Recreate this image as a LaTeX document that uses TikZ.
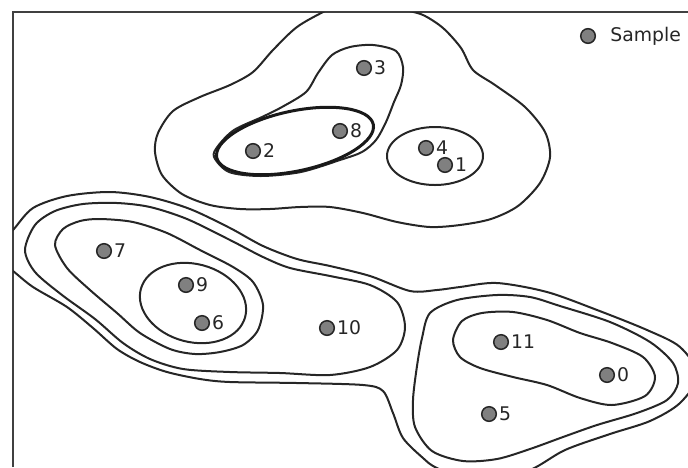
\documentclass[tikz,border=0pt]{standalone}
\usepackage{fontspec}
\setmainfont{DejaVu Sans}
\usepackage{xcolor}
\usetikzlibrary{positioning}

\begin{document}
\begin{tikzpicture}[
  x=0.5pt, y=-0.5pt,
  every node/.style={font=\fontsize{9.4pt}{11pt}\selectfont},
  contour/.style={line width=1pt, black!85},
  boldcontour/.style={line width=1.5pt, black!90},
  frame/.style={line width=1pt, black!75},
  sample/.style={circle, draw=black!85, fill=black!50, line width=0.75pt, minimum size=7.3pt, inner sep=0pt},
  lbl/.style={inner sep=0pt, text=black!85}
]
\useasboundingbox (0,0) rectangle (688,467);

% Axes frame
\draw[frame] (13,467) -- (13,12) -- (688,12);

\begin{scope}
\clip (13,12) rectangle (688,467);

% Upper cluster
\draw[contour] plot[smooth cycle] coordinates {(365,-8) (327,10) (297,27) (273,50) (253,72) (230,85) (200,97) (173,111) (158,133) (155,152) (162,175) (182,194) (210,205) (240,209) (270,209) (300,207) (330,207) (363,213) (397,222) (430,227) (460,225) (491,219) (518,206) (540,183) (550,157) (545,132) (525,107) (495,85) (473,70) (461,48) (443,28) (423,15) (400,8)};
\draw[contour] plot[smooth cycle] coordinates {(214,157) (229,172) (261,176) (301,172) (340,160) (362,152) (376,140) (386,122) (394,102) (401,85) (403,67) (396,51) (373,45) (350,47) (332,55) (318,73) (306,92) (282,107) (262,117) (234,130) (218,146)};
\draw[boldcontour, rotate around={12:(295,141)}] (295,141) ellipse [x radius=80, y radius=30];
\draw[contour] (435,156) ellipse [x radius=48, y radius=29];

% Lower clusters, outermost level
\draw[contour] plot[smooth] coordinates {(0,242) (13,230) (33,208) (67,196) (110,192) (150,197) (190,209) (230,228) (263,246) (297,259) (330,266) (370,276) (410,291) (437,290) (460,287) (497,283) (547,292) (597,310) (647,330) (680,347) (698,375) (680,403) (650,421) (610,434) (565,450) (530,470) (480,485) (437,468) (423,458) (403,438) (393,413) (383,391) (363,385) (297,383) (230,382) (200,379) (167,372) (140,362) (117,349) (93,328) (67,307) (33,287) (13,271) (0,262)};

% Left cluster
\draw[contour] plot[smooth cycle] coordinates {(25,250) (35,225) (55,211) (83,204) (117,203) (150,207) (187,219) (230,240) (263,257) (290,268) (330,276) (370,285) (397,302) (405,327) (397,350) (370,367) (330,375) (280,373) (230,372) (183,369) (150,359) (123,343) (95,319) (62,295) (35,272)};
\draw[contour] plot[smooth cycle] coordinates {(55,245) (63,229) (80,221) (100,219) (133,222) (167,233) (200,250) (233,267) (253,282) (263,305) (258,330) (243,345) (220,352) (195,354) (170,349) (140,333) (117,313) (90,290) (67,268)};
\draw[contour, rotate around={-15:(193,303)}] (193,303) ellipse [x radius=54, y radius=39];

% Right cluster
\draw[contour] plot[smooth cycle] coordinates {(422,338) (430,313) (457,300) (497,295) (530,297) (560,306) (610,322) (650,342) (673,363) (678,383) (667,400) (637,413) (597,425) (563,437) (530,449) (497,459) (463,461) (432,451) (415,427) (413,400) (417,366)};
\draw[contour] plot[smooth cycle] coordinates {(453,340) (462,321) (482,313) (513,312) (547,320) (580,333) (612,343) (643,357) (655,377) (645,396) (612,405) (580,398) (547,385) (513,377) (480,368) (460,357)};
\end{scope}

% Samples
\node[sample] (s0) at (607,375) {};
\node[sample] (s1) at (445,165) {};
\node[sample] (s2) at (253,151) {};
\node[sample] (s3) at (364,68) {};
\node[sample] (s4) at (426,148) {};
\node[sample] (s5) at (489,414) {};
\node[sample] (s6) at (202,323) {};
\node[sample] (s7) at (104,251) {};
\node[sample] (s8) at (340,131) {};
\node[sample] (s9) at (186,285) {};
\node[sample] (s10) at (327,328) {};
\node[sample] (s11) at (501,342) {};

\node[lbl, right=0.8pt of s0] (l0) {0};
\node[lbl, right=0.8pt of s1] (l1) {1};
\node[lbl, right=0.8pt of s2] (l2) {2};
\node[lbl, right=0.8pt of s3] (l3) {3};
\node[lbl, right=0.8pt of s4] (l4) {4};
\node[lbl, right=0.8pt of s5] (l5) {5};
\node[lbl, right=0.8pt of s6] (l6) {6};
\node[lbl, right=0.8pt of s7] (l7) {7};
\node[lbl, right=0.8pt of s8] (l8) {8};
\node[lbl, right=0.8pt of s9] (l9) {9};
\node[lbl, right=0.8pt of s10] (l10) {10};
\node[lbl, right=0.8pt of s11] (l11) {11};

% Legend
\node[sample] (key) at (588,36) {};
\node[lbl, right=7pt of key] (keytext) {Sample};

\end{tikzpicture}
\end{document}
